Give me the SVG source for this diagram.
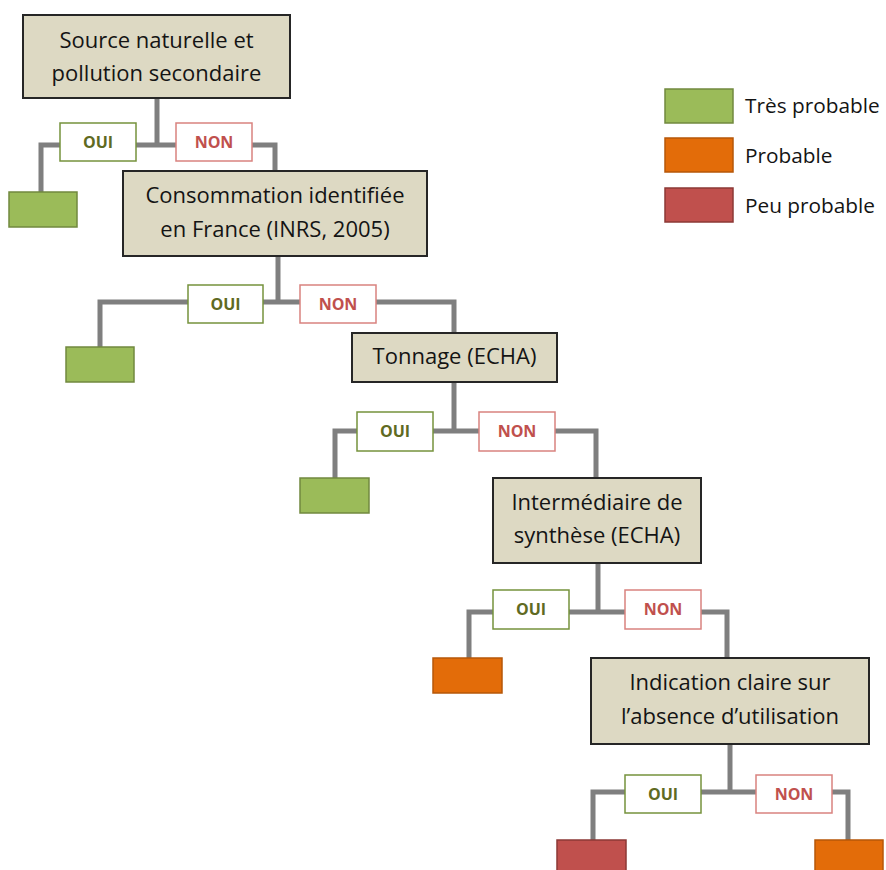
<svg xmlns="http://www.w3.org/2000/svg" width="886" height="870" viewBox="0 0 886 870">
<style>
.bg{fill:#ffffff}
.node rect{fill:#ddd9c3;stroke:#262626;stroke-width:2}
.node text{font-family:"Open Sans","Liberation Sans",sans-serif;font-size:22px;fill:#141414;text-anchor:middle}
.conn path{fill:none;stroke:#7f7f7f;stroke-width:5;stroke-linejoin:miter;stroke-linecap:butt}
.oui rect{fill:#ffffff;stroke:#76923c;stroke-width:1.5}
.oui text{font-family:"Open Sans","Liberation Sans",sans-serif;font-size:16px;font-weight:bold;fill:#5f6a22;text-anchor:middle}
.non rect{fill:#ffffff;stroke:#d9827f;stroke-width:1.5}
.non text{font-family:"Open Sans","Liberation Sans",sans-serif;font-size:16px;font-weight:bold;fill:#c0504d;text-anchor:middle}
.green{fill:#9bbb59;stroke:#71893f;stroke-width:1.5}
.orange{fill:#e36c09;stroke:#b65708;stroke-width:1.5}
.red{fill:#c0504d;stroke:#8c3836;stroke-width:1.5}
.legend text{font-family:"Open Sans","Liberation Sans",sans-serif;font-size:20.8px;fill:#141414}
</style>
<rect class="bg" x="0" y="0" width="886" height="870"/>

<g id="connectors" class="conn">
  <path d="M157,98 V145"/>
  <path d="M41,192 V145 H275 V171"/>
  <path d="M278,256 V302"/>
  <path d="M100,347 V302 H454 V333"/>
  <path d="M454,382 V431"/>
  <path d="M335,478 V431 H596 V478"/>
  <path d="M598,563 V612"/>
  <path d="M469,658 V612 H727 V658"/>
  <path d="M730,744 V792"/>
  <path d="M593,840 V792 H848 V840"/>
</g>

<g id="node1" class="node">
  <rect x="23" y="15" width="267" height="83"/>
  <text x="156.5" y="48">Source naturelle et</text>
  <text x="156.5" y="81">pollution secondaire</text>
</g>
<g id="node2" class="node">
  <rect x="123" y="171" width="304" height="85"/>
  <text x="275" y="203">Consommation identifiée</text>
  <text x="275" y="237">en France (INRS, 2005)</text>
</g>
<g id="node3" class="node">
  <rect x="352" y="333" width="205" height="49"/>
  <text x="454.5" y="364">Tonnage (ECHA)</text>
</g>
<g id="node4" class="node">
  <rect x="493" y="478" width="208" height="85"/>
  <text x="597" y="510">Intermédiaire de</text>
  <text x="597" y="543">synthèse (ECHA)</text>
</g>
<g id="node5" class="node">
  <rect x="591" y="658" width="278" height="86"/>
  <text x="730" y="690">Indication claire sur</text>
  <text x="730" y="724">l’absence d’utilisation</text>
</g>

<g id="oui1" class="oui"><rect x="60" y="123" width="76" height="38"/><text x="98" y="148">OUI</text></g>
<g id="non1" class="non"><rect x="176" y="123" width="76" height="38"/><text x="214" y="148">NON</text></g>
<g id="oui2" class="oui"><rect x="188" y="285" width="75" height="38"/><text x="225.5" y="310">OUI</text></g>
<g id="non2" class="non"><rect x="300" y="285" width="76" height="38"/><text x="338" y="310">NON</text></g>
<g id="oui3" class="oui"><rect x="357" y="412" width="76" height="39"/><text x="395" y="437">OUI</text></g>
<g id="non3" class="non"><rect x="479" y="412" width="76" height="39"/><text x="517" y="437">NON</text></g>
<g id="oui4" class="oui"><rect x="493" y="590" width="76" height="39"/><text x="531" y="615">OUI</text></g>
<g id="non4" class="non"><rect x="625" y="590" width="76" height="39"/><text x="663" y="615">NON</text></g>
<g id="oui5" class="oui"><rect x="625" y="775" width="76" height="38"/><text x="663" y="800">OUI</text></g>
<g id="non5" class="non"><rect x="756" y="775" width="76" height="38"/><text x="794" y="800">NON</text></g>

<g id="leaf1"><rect class="green" x="9" y="192" width="68" height="35"/></g>
<g id="leaf2"><rect class="green" x="66" y="347" width="68" height="35"/></g>
<g id="leaf3"><rect class="green" x="300" y="478" width="69" height="35"/></g>
<g id="leaf4"><rect class="orange" x="433" y="658" width="69" height="35"/></g>
<g id="leaf5"><rect class="red" x="557" y="840" width="69" height="35"/></g>
<g id="leaf6"><rect class="orange" x="815" y="840" width="68" height="35"/></g>

<g id="legend" class="legend">
  <rect class="green" x="665" y="89" width="68" height="34"/>
  <text x="745" y="113">Très probable</text>
  <rect class="orange" x="665" y="138" width="68" height="34"/>
  <text x="745" y="163">Probable</text>
  <rect class="red" x="665" y="188" width="68" height="34"/>
  <text x="745" y="213">Peu probable</text>
</g>
</svg>
